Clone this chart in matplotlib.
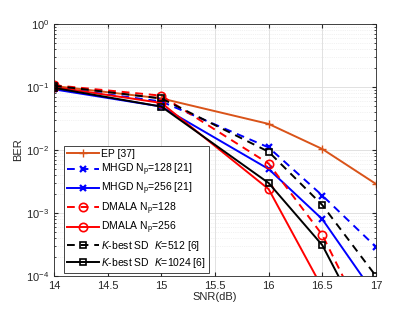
import numpy as np
import matplotlib
matplotlib.use("Agg")
import matplotlib.pyplot as plt

plt.rcParams['font.family'] = ['Liberation Sans', 'DejaVu Sans']
plt.rcParams['mathtext.fontset'] = 'custom'
plt.rcParams['mathtext.rm'] = 'Liberation Sans'
plt.rcParams['mathtext.it'] = 'Liberation Sans:italic'

x_pts = [14, 15, 16, 16.5, 17]

ep = [0.104, 0.066, 0.026, 0.0104, 0.0029]
mhgd128 = [0.099, 0.059, 0.011, 0.0019, 0.00029]
mhgd256 = [0.092, 0.049, 0.0050, 0.0008, 4.8e-5]
dmala128 = [0.107, 0.073, 0.0061, 0.00045, 8.7e-6]
dmala256 = [0.100, 0.056, 0.0024, 6.5e-5]
kb512 = [0.105, 0.066, 0.0094, 0.00134, 0.0001]
kb1024 = [0.097, 0.049, 0.0030, 0.00031, 7.2e-6]

labels = ["EP [37]",
          "MHGD N$_{\\rm p}$=128 [21]",
          "MHGD N$_{\\rm p}$=256 [21]",
          "DMALA N$_{\\rm p}$=128",
          "DMALA N$_{\\rm p}$=256",
          "$K$-best SD  $K$=512 [6]",
          "$K$-best SD  $K$=1024 [6]"]
xticks = [14, 14.5, 15, 15.5, 16, 16.5, 17]
xticklabels = ['14', '14.5', '15', '15.5', '16', '16.5', '17']

fig = plt.figure(figsize=(4.15, 3.12), dpi=100)
ax = fig.add_axes([0.130, 0.115, 0.776, 0.808])

orange = (0.85, 0.325, 0.098)
lw = 1.4
ax.semilogy(x_pts, ep, '-', color=orange, marker='+', ms=6, mew=1.0, lw=lw, label=labels[0])
ax.semilogy(x_pts, mhgd128, '--', color='blue', marker='x', ms=4, mew=1.6, lw=lw, label=labels[1], dashes=(4, 3))
ax.semilogy(x_pts, mhgd256, '-', color='blue', marker='x', ms=4, mew=1.6, lw=lw, label=labels[2])
ax.semilogy(x_pts, dmala128, '--', color='red', marker='o', ms=6, mfc='none', mew=1.2, lw=lw, label=labels[3], dashes=(4, 3))
ax.semilogy(x_pts[:4], dmala256, '-', color='red', marker='o', ms=6, mfc='none', mew=1.2, lw=lw, label=labels[4])
ax.semilogy(x_pts, kb512, '--', color='black', marker='s', ms=5, mfc='none', mew=1.2, lw=lw, label=labels[5], dashes=(4, 3))
ax.semilogy(x_pts, kb1024, '-', color='black', marker='s', ms=5, mfc='none', mew=1.2, lw=lw, label=labels[6])

ax.set_xlim(14, 17)
ax.set_ylim(1e-4, 1)
ax.set_xticks(xticks)
ax.set_xticklabels(xticklabels)
ax.set_xlabel('SNR(dB)', fontsize=8, color='#262626', labelpad=1)
ax.set_ylabel('BER', fontsize=8, color='#262626', labelpad=2)
ax.tick_params(axis='both', which='both', direction='in', labelsize=8, colors='#262626', top=True, right=True)
ax.tick_params(which='major', length=3)
ax.tick_params(which='minor', length=1.5)
ax.grid(True, which='major', color='#dcdcdc', lw=0.6)
ax.grid(True, which='minor', color='#e6e6e6', lw=0.5, ls=':')
for s in ax.spines.values():
    s.set_color('#262626')
    s.set_linewidth(0.6)

leg = ax.legend(loc='lower left', bbox_to_anchor=(0.022, 0.0), fontsize=7.5, frameon=True, fancybox=False,
                edgecolor='#262626', framealpha=1, handlelength=3.0, handletextpad=0.2,
                borderaxespad=0.3, labelspacing=0.28, borderpad=0.3)
leg.get_frame().set_linewidth(0.6)

fig.savefig('out.png', dpi=100)
